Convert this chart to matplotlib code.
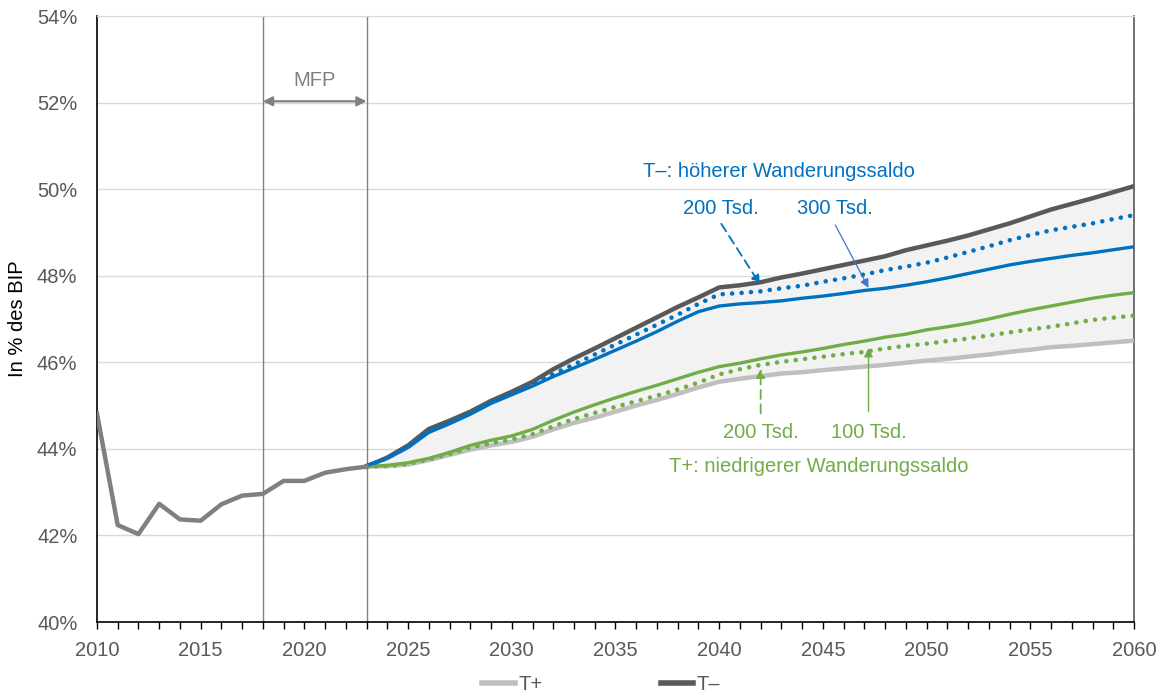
import matplotlib.pyplot as plt
import numpy as np

plt.rcParams['font.family'] = ['Liberation Sans', 'DejaVu Sans']

# historical values
years_hist = list(range(2010, 2024))
hist = [44.82, 42.24, 42.03, 42.73, 42.37, 42.34, 42.72, 42.92, 42.96,
        43.26, 43.26, 43.45, 43.53, 43.59]

# projections 2023-2060
years_proj = list(range(2023, 2061))
t_plus = [43.59, 43.60, 43.64, 43.74, 43.86, 43.98, 44.08, 44.16, 44.28, 44.45,
          44.60, 44.72, 44.86, 45.00, 45.13, 45.27, 45.42, 45.55,
          45.62, 45.68, 45.74, 45.77, 45.82, 45.86, 45.90, 45.94, 45.99, 46.04,
          46.08, 46.13, 46.18, 46.24, 46.29, 46.35, 46.38, 46.42, 46.46, 46.50]
t_minus = [43.59, 43.80, 44.08, 44.46, 44.65, 44.86, 45.11, 45.32, 45.55, 45.84,
           46.09, 46.32, 46.56, 46.80, 47.04, 47.28, 47.50, 47.73,
           47.78, 47.85, 47.96, 48.05, 48.15, 48.25, 48.35, 48.45, 48.59, 48.70,
           48.81, 48.93, 49.07, 49.21, 49.37, 49.53, 49.66, 49.79, 49.93, 50.07]
blue_200 = [43.60, 43.79, 44.05, 44.42, 44.61, 44.83, 45.08, 45.28, 45.50, 45.73,
            45.95, 46.18, 46.41, 46.64, 46.87, 47.10, 47.35, 47.57,
            47.60, 47.64, 47.71, 47.77, 47.86, 47.94, 48.03, 48.13, 48.21, 48.30,
            48.42, 48.55, 48.68, 48.82, 48.94, 49.05, 49.13, 49.21, 49.31, 49.40]
blue_300 = [43.62, 43.78, 44.03, 44.38, 44.58, 44.80, 45.05, 45.25, 45.45, 45.67,
            45.87, 46.07, 46.28, 46.49, 46.71, 46.95, 47.17, 47.30,
            47.35, 47.38, 47.42, 47.48, 47.53, 47.59, 47.66, 47.71, 47.78, 47.86,
            47.95, 48.05, 48.15, 48.25, 48.33, 48.40, 48.47, 48.53, 48.60, 48.67]
green_100 = [43.59, 43.62, 43.68, 43.78, 43.92, 44.08, 44.20, 44.30, 44.45, 44.66,
             44.85, 45.02, 45.18, 45.33, 45.47, 45.62, 45.77, 45.90,
             45.98, 46.08, 46.17, 46.24, 46.32, 46.41, 46.49, 46.58, 46.65, 46.75,
             46.82, 46.90, 47.00, 47.11, 47.21, 47.30, 47.39, 47.48, 47.55, 47.61]
green_200 = [43.59, 43.60, 43.65, 43.76, 43.88, 44.03, 44.13, 44.22, 44.34, 44.52,
             44.69, 44.83, 44.97, 45.10, 45.23, 45.37, 45.53, 45.72,
             45.84, 45.94, 46.01, 46.07, 46.13, 46.19, 46.24, 46.32, 46.38, 46.43,
             46.49, 46.55, 46.62, 46.69, 46.76, 46.82, 46.90, 46.98, 47.03, 47.08]

yticks = [40, 42, 44, 46, 48, 50, 52, 54]

c_blue = '#0070C0'
c_green = '#70AD47'
c_dark = '#595959'
c_light = '#BFBFBF'
c_hist = '#808080'
c_text = '#595959'
fs = 14.5

fig = plt.figure(figsize=(11.68, 6.97), dpi=100)
ax = fig.add_axes([0.083, 0.1076, 0.8879, 0.8694])

ax.fill_between(years_proj, t_plus, t_minus, color='#F2F2F2', zorder=1, lw=0)

ax.plot(years_proj, t_plus, color=c_light, lw=3.2, zorder=3, label='T+')
ax.plot(years_proj, t_minus, color=c_dark, lw=3.2, zorder=3, label='T\u2013')
ax.plot(years_proj, green_200, color=c_green, lw=3.3, ls=(0, (0.01, 2.05)),
        dash_capstyle='round', zorder=4)
ax.plot(years_proj, green_100, color=c_green, lw=2.4, zorder=4)
ax.plot(years_proj, blue_200, color=c_blue, lw=3.3, ls=(0, (0.01, 2.05)),
        dash_capstyle='round', zorder=5)
ax.plot(years_proj, blue_300, color=c_blue, lw=2.4, zorder=5)
ax.plot(years_hist, hist, color=c_hist, lw=3.2, zorder=6)

# MFP period
for yr in [2018, 2023]:
    ax.axvline(yr, color=c_hist, lw=1, zorder=2)
ax.annotate('', xy=(2018, 52.03), xytext=(2023, 52.03),
            arrowprops=dict(arrowstyle='<|-|>', color=c_hist, lw=1.6,
                            shrinkA=0, shrinkB=0, mutation_scale=14))
ax.text(2020.5, 52.52, 'MFP', color=c_hist, fontsize=fs, ha='center', va='center')

# annotations T-
ax.text(2042.9, 50.4, 'T\u2013: höherer Wanderungssaldo', color=c_blue,
        fontsize=fs, ha='center', va='center')
ax.text(2040.1, 49.56, '200 Tsd.', color=c_blue, fontsize=fs, ha='center', va='center')
ax.text(2045.6, 49.56, '300 Tsd.', color=c_blue, fontsize=fs, ha='center', va='center')
ax.annotate('', xy=(2041.97, 47.8), xytext=(2040.1, 49.2),
            arrowprops=dict(arrowstyle='-|>', color=c_blue, lw=1.3, ls=(0, (5, 3)),
                            shrinkA=0, shrinkB=0, mutation_scale=13), zorder=7)
ax.annotate('', xy=(2047.2, 47.72), xytext=(2045.6, 49.17),
            arrowprops=dict(arrowstyle='-|>', color='#4472C4', lw=0.9,
                            shrinkA=0, shrinkB=0, mutation_scale=13), zorder=7)

# annotations T+
ax.text(2044.8, 43.59, 'T+: niedrigerer Wanderungssaldo', color=c_green,
        fontsize=fs, ha='center', va='center')
ax.text(2042.0, 44.37, '200 Tsd.', color=c_green, fontsize=fs, ha='center', va='center')
ax.text(2047.2, 44.37, '100 Tsd.', color=c_green, fontsize=fs, ha='center', va='center')
ax.annotate('', xy=(2042.0, 45.85), xytext=(2042.0, 44.82),
            arrowprops=dict(arrowstyle='-|>', color=c_green, lw=1.3, ls=(0, (5, 3)),
                            shrinkA=0, shrinkB=0, mutation_scale=13), zorder=7)
ax.annotate('', xy=(2047.2, 46.33), xytext=(2047.2, 44.86),
            arrowprops=dict(arrowstyle='-|>', color=c_green, lw=1.0,
                            shrinkA=0, shrinkB=0, mutation_scale=13), zorder=7)

# axes
ax.set_xlim(2010, 2060)
ax.set_ylim(40, 54)
ax.set_yticks(yticks)
ax.set_yticklabels([f'{v}%' for v in yticks])
ax.set_xticks(range(2010, 2061, 5))
ax.set_xticks(range(2010, 2061), minor=True)
ax.grid(axis='y', color='#D9D9D9', lw=1, zorder=0)
ax.set_axisbelow(True)
ax.tick_params(axis='y', length=0, pad=14, labelsize=fs, labelcolor=c_text)
ax.tick_params(axis='x', which='both', direction='out', length=5, width=1,
               color='black', pad=9, labelsize=fs, labelcolor=c_text)
for s in ['left', 'bottom']:
    ax.spines[s].set_color('black')
    ax.spines[s].set_linewidth(1.2)
ax.spines['top'].set_color('#D9D9D9')
ax.spines['right'].set_color(c_dark)
ax.spines['right'].set_linewidth(1.2)

ax.set_ylabel('In % des BIP', fontsize=fs, color='black')
ax.yaxis.set_label_coords(-0.0675, 0.5)

leg = fig.legend(handles=[ax.lines[0], ax.lines[1]], loc='center',
                 bbox_to_anchor=(0.515, 0.018), ncol=2, frameon=False,
                 fontsize=fs, handlelength=1.6, handletextpad=0.2,
                 columnspacing=5.85)
for t in leg.get_texts():
    t.set_color(c_text)
for l in leg.get_lines():
    l.set_linewidth(4)

fig.savefig('out.png', dpi=100)
